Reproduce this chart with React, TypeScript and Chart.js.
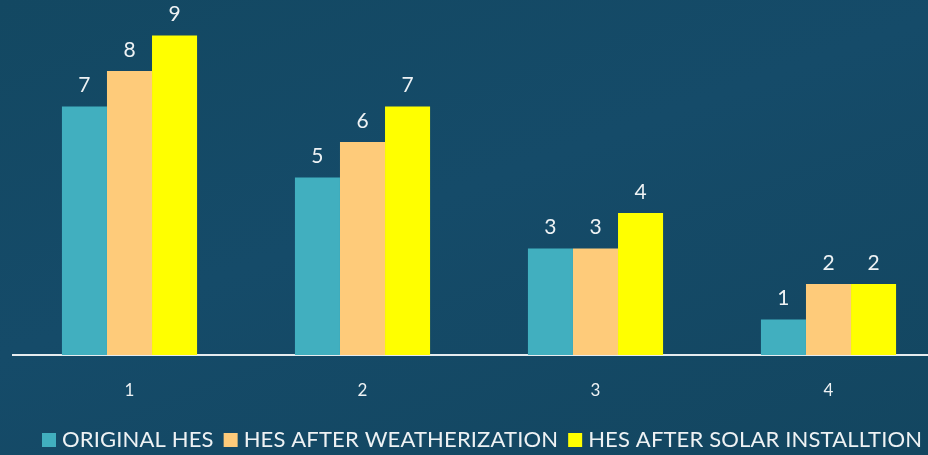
import React, { useEffect, useRef } from "react";
import { Chart, registerables } from "chart.js";

Chart.register(...registerables);

const categories = ["1", "2", "3", "4"];
const originalHes = [7, 5, 3, 1];
const afterWeatherization = [8, 6, 3, 2];
const afterSolar = [9, 7, 4, 2];
const seriesNames = ["ORIGINAL HES", "HES AFTER WEATHERIZATION", "HES AFTER SOLAR INSTALLTION"];
const seriesColors = ["#41afbf", "#fecb7a", "#ffff00"];

const FONT = "Lato, 'Open Sans', sans-serif";
const TEXT = "#eef2f4";

const labelPlugin = {
  id: "barLabels",
  afterDatasetsDraw(chart: any) {
    const ctx = chart.ctx;
    ctx.save();
    ctx.fillStyle = TEXT;
    ctx.font = `21px ${FONT}`;
    ctx.textAlign = "center";
    ctx.textBaseline = "middle";
    chart.data.datasets.forEach((ds: any, i: number) => {
      const meta = chart.getDatasetMeta(i);
      meta.data.forEach((bar: any, j: number) => {
        ctx.fillText(String(ds.data[j]), bar.x, bar.y - 21);
      });
    });
    ctx.restore();
  },
};

const legendPlugin = {
  id: "customLegend",
  afterDraw(chart: any) {
    const ctx = chart.ctx;
    ctx.save();
    ctx.font = `22px ${FONT}`;
    try { (ctx as any).letterSpacing = "0.15px"; } catch (e) {}
    ctx.textBaseline = "middle";
    ctx.textAlign = "left";
    let x = 42;
    const y = 440;
    seriesNames.forEach((name, i) => {
      ctx.fillStyle = seriesColors[i];
      ctx.fillRect(x, y - 7, 14, 14);
      ctx.fillStyle = TEXT;
      ctx.fillText(name, x + 20, y);
      x += 20 + ctx.measureText(name).width + 10;
    });
    ctx.restore();
  },
};

export default function App() {
  const ref = useRef<HTMLCanvasElement>(null);
  useEffect(() => {
    if (!ref.current) return;
    const chart = new Chart(ref.current, {
      type: "bar",
      data: {
        labels: categories,
        datasets: [
          { label: seriesNames[0], data: originalHes, backgroundColor: seriesColors[0] },
          { label: seriesNames[1], data: afterWeatherization, backgroundColor: seriesColors[1] },
          { label: seriesNames[2], data: afterSolar, backgroundColor: seriesColors[2] },
        ],
      },
      options: {
        responsive: false,
        animation: false,
        layout: { padding: { left: 13, right: 0, top: 0, bottom: 0 } },
        datasets: { bar: { categoryPercentage: 0.58, barPercentage: 1 } },
        plugins: { legend: { display: false }, tooltip: { enabled: false } },
        scales: {
          x: {
            grid: { display: false },
            border: { display: true, color: "#e6ecef", width: 2 },
            ticks: { color: TEXT, font: { family: FONT, size: 17 }, padding: 17 },
            afterFit: (s: any) => { s.height = 100; },
          },
          y: { display: false, min: 0, max: 10 },
        },
      },
      plugins: [labelPlugin, legendPlugin],
    });
    return () => chart.destroy();
  }, []);
  return (
    <div
      style={{
        position: "fixed",
        left: 0,
        top: 0,
        width: 928,
        height: 455,
        overflow: "hidden",
        background: "linear-gradient(160deg, #134862 0%, #154b69 45%, #134660 100%)",
      }}
    >
      <canvas ref={ref} width={945} height={455} style={{ display: "block" }} />
    </div>
  );
}
